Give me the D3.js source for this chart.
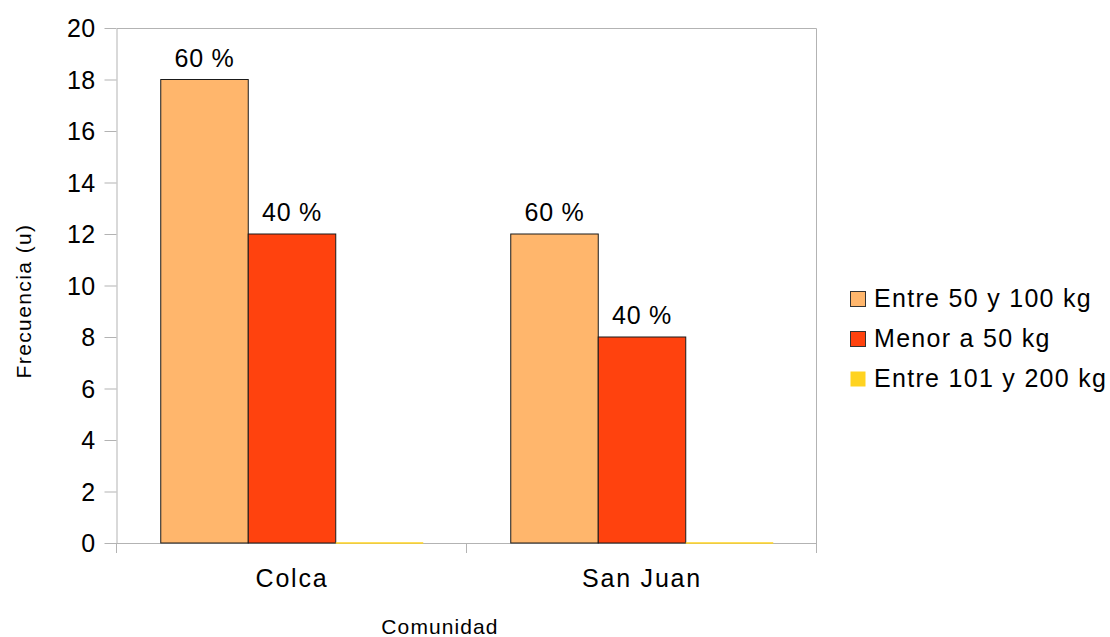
<!DOCTYPE html>
<html>
<head>
<meta charset="utf-8">
<script src="https://cdn.jsdelivr.net/npm/d3@7"></script>
<style>
  body { margin: 0; background: #fff; }
  svg { display: block; font-family: "Liberation Sans", Arial, sans-serif; }
</style>
</head>
<body>
<svg id="chart" width="1110" height="637"></svg>
<script>
// Frequency of weight classes per community
const communities = ["Colca", "San Juan"];
const seriesNames = ["Entre 50 y 100 kg", "Menor a 50 kg", "Entre 101 y 200 kg"];
const seriesColors = ["#ffb66c", "#ff420e", "#ffd320"];
const entre50y100 = [18, 12];
const menorA50 = [12, 8];
const entre101y200 = [0, 0];
const percentLabels = [["60 %", "60 %"], ["40 %", "40 %"], ["", ""]];
const yTicks = [0, 2, 4, 6, 8, 10, 12, 14, 16, 18, 20];

const series = [entre50y100, menorA50, entre101y200];

const svg = d3.select("#chart");
const m = { left: 117, right: 817, top: 28, bottom: 543 };

const x0 = d3.scaleBand().domain(communities).range([m.left, m.right]).paddingInner(0).paddingOuter(0);
const x1 = d3.scaleBand().domain(d3.range(series.length)).range([0, x0.bandwidth()]).paddingInner(0).paddingOuter(0.5);
const y = d3.scaleLinear().domain([0, 20]).range([m.bottom, m.top]);

// plot frame (top and right edges)
svg.append("path")
  .attr("d", `M${m.left},${m.top + 0.5}H${m.right - 0.5}V${m.bottom}`)
  .attr("fill", "none").attr("stroke", "#b3b3b3").attr("stroke-width", 1);

// y axis
const yAxis = svg.append("g").attr("transform", `translate(${m.left - 0.5},0)`)
  .call(d3.axisLeft(y).tickValues(yTicks).tickSize(12).tickPadding(9).tickSizeOuter(0));
yAxis.select(".domain").attr("stroke", "#b3b3b3");
yAxis.selectAll(".tick line").attr("stroke", "#b3b3b3");
yAxis.selectAll(".tick text").attr("font-size", 25).attr("letter-spacing", 0.3)
  .attr("fill", "#000").attr("dy", "0.35em");

// x axis: ticks on group boundaries
const xAxisG = svg.append("g");
xAxisG.append("line").attr("x1", m.left).attr("x2", m.right).attr("y1", m.bottom + 0.5).attr("y2", m.bottom + 0.5).attr("stroke", "#b3b3b3");
const boundaries = [m.left].concat(communities.map(c => x0(c) + x0.bandwidth()));
xAxisG.selectAll("line.tick").data(boundaries).join("line").attr("class", "tick")
  .attr("x1", d => d - 0.5).attr("x2", d => d - 0.5).attr("y1", m.bottom).attr("y2", m.bottom + 10)
  .attr("stroke", "#b3b3b3");
xAxisG.selectAll("text").data(communities).join("text")
  .attr("x", d => x0(d) + x0.bandwidth() / 2).attr("y", 587)
  .attr("text-anchor", "middle").attr("font-size", 25).attr("letter-spacing", 1.8).text(d => d);

// bars
series.forEach((vals, si) => {
  const g = svg.append("g");
  const hasValues = vals.some(v => v > 0);
  g.selectAll("rect").data(communities).join("rect")
    .attr("x", (c) => x0(c) + x1(si))
    .attr("y", (c, i) => y(vals[i]))
    .attr("width", x1.bandwidth())
    .attr("height", (c, i) => y(0) - y(vals[i]))
    .attr("fill", seriesColors[si])
    .attr("stroke", hasValues ? "#1a1a1a" : "none")
    .attr("stroke-width", 1);
  if (!hasValues) {
    g.selectAll("line").data(communities).join("line")
      .attr("x1", c => x0(c) + x1(si)).attr("x2", c => x0(c) + x1(si) + x1.bandwidth())
      .attr("y1", y(0)).attr("y2", y(0)).attr("stroke", seriesColors[si]).attr("stroke-width", 1.5);
  }
  g.selectAll("text").data(communities).join("text")
    .attr("x", c => x0(c) + x1(si) + x1.bandwidth() / 2)
    .attr("y", (c, i) => y(vals[i]) - 13)
    .attr("text-anchor", "middle").attr("font-size", 25).attr("letter-spacing", 0.7)
    .text((c, i) => percentLabels[si][i]);
});

// axis titles
svg.append("text").attr("transform", "translate(31,301) rotate(-90)")
  .attr("text-anchor", "middle").attr("font-size", 21).attr("letter-spacing", 1.4).text("Frecuencia (u)");
svg.append("text").attr("x", 440).attr("y", 634)
  .attr("text-anchor", "middle").attr("font-size", 21).attr("letter-spacing", 1.1).text("Comunidad");

// legend
const legend = svg.append("g").attr("transform", "translate(850,291)");
seriesNames.forEach((name, i) => {
  const row = legend.append("g").attr("transform", `translate(0,${i * 40})`);
  row.append("rect").attr("x", 0.5).attr("y", 0.5).attr("width", 15).attr("height", 15)
    .attr("fill", seriesColors[i]).attr("stroke", i < 2 ? "#333" : "none");
  row.append("text").attr("x", 24).attr("y", 16)
    .attr("font-size", 25).attr("letter-spacing", 1.3).text(name);
});
</script>
</body>
</html>
